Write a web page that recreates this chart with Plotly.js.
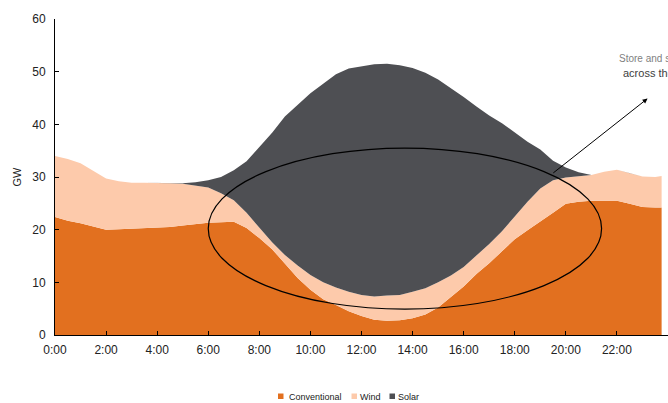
<!DOCTYPE html>
<html>
<head>
<meta charset="utf-8">
<script src="https://cdn.plot.ly/plotly-3.0.1.min.js"></script>
<style>html,body{margin:0;padding:0;background:#fff;}#chart{width:668px;height:403px;}</style>
</head>
<body>
<div id="chart"></div>
<script>
// Hours of the day (decimal)
const hours = [0,0.5,1,1.5,2,2.5,3,3.5,4,4.5,5,5.5,6,6.5,7,7.5,8,8.5,9,9.5,10,10.5,11,11.5,12,12.5,13,13.5,14,14.5,15,15.5,16,16.5,17,17.5,18,18.5,19,19.5,20,20.5,21,21.5,22,22.5,23,23.5,23.75];
// GW, stacked
const conventional = [22.4,21.7,21.2,20.6,20.0,20.1,20.2,20.3,20.4,20.5,20.8,21.1,21.3,21.4,21.5,20.3,18.4,16.3,13.5,10.8,8.6,6.8,5.7,4.5,3.6,2.9,2.7,2.8,3.2,3.9,5.2,7.2,9.2,11.6,13.6,15.9,18.2,19.9,21.5,23.2,24.9,25.3,25.5,25.5,25.5,24.9,24.3,24.2,24.2];
const wind = [11.6,11.7,11.4,10.6,9.7,9.1,8.7,8.6,8.5,8.3,7.9,7.3,6.7,5.5,4.1,2.9,2.1,1.3,1.7,2.4,2.8,3.2,3.3,3.7,4.0,4.4,4.8,4.8,5.0,5.0,4.8,4.1,3.7,3.5,3.7,3.8,4.4,5.4,6.3,6.2,5.0,4.8,4.9,5.5,5.9,5.8,5.8,5.8,6.0];
const solar = [0,0,0,0,0,0,0,0,0,0,0.1,0.6,1.4,3.1,5.7,9.8,15.1,20.8,26.3,30.5,34.5,37.7,40.5,42.4,43.4,44.1,44.0,43.6,42.5,40.9,38.5,35.6,32.3,28.3,24.4,20.5,15.9,11.4,7.4,3.7,1.9,0.8,0,0,0,0,0,0,0];
const seriesNames = ["Conventional","Wind","Solar"];
const seriesColors = ["#E2701F","#FDCAAB","#4E4F53"];
const tickHours = [0,2,4,6,8,10,12,14,16,18,20,22];
const tickLabels = ["0:00","2:00","4:00","6:00","8:00","10:00","12:00","14:00","16:00","18:00","20:00","22:00"];
const yTicks = [0,10,20,30,40,50,60];
const noteLines = ["Store and shift solar","across the day"];

const seriesValues = [conventional, wind, solar];
const traces = seriesValues.map((vals, i) => ({
  x: hours, y: vals, name: seriesNames[i], type: 'scatter', mode: 'lines',
  stackgroup: 'one', line: {width: 0, color: seriesColors[i]}, fillcolor: seriesColors[i],
  showlegend: false, hoverinfo: 'skip'
}));

// plot geometry for legend placement (paper coords)
const L = 55, T = 19, W = 613, H = 316;
const px = v => (v - L) / W;
const py = v => (T + H - v) / H;

const legendSquares = [278, 351.5, 389.5];
const legendText = [286.5, 358, 395.5];
const shapes = [
  {type: 'circle', xref: 'x', yref: 'y', x0: 6.0, x1: 21.4, y0: 4.9, y1: 35.5,
   line: {color: '#000', width: 1.2}, layer: 'above'}
];
const annotations = [];
seriesNames.forEach((n, i) => {
  shapes.push({type: 'rect', xref: 'paper', yref: 'paper',
    x0: px(legendSquares[i]), x1: px(legendSquares[i] + 5.5),
    y0: py(399), y1: py(393.5), fillcolor: seriesColors[i], line: {width: 0}});
  annotations.push({xref: 'paper', yref: 'paper', x: px(legendText[i]), y: py(396.5),
    xanchor: 'left', yanchor: 'middle', showarrow: false, text: n,
    font: {family: 'Liberation Sans, Arial', size: 9, color: '#222'}});
});
annotations.push({xref: 'paper', yref: 'paper', x: px(617), y: py(58), xanchor: 'left', yanchor: 'middle',
  showarrow: false, text: noteLines[0], font: {family: 'Liberation Sans, Arial', size: 10, color: '#7f7f7f'}});
annotations.push({xref: 'paper', yref: 'paper', x: px(621), y: py(73), xanchor: 'left', yanchor: 'middle',
  showarrow: false, text: noteLines[1], font: {family: 'Liberation Sans, Arial', size: 11, color: '#404040'}});
annotations.push({xref: 'x', yref: 'y', axref: 'x', ayref: 'y', x: 23.2, y: 44.9, ax: 19.45, ay: 30.55,
  text: '', showarrow: true, arrowhead: 2, arrowsize: 1, arrowwidth: 1, arrowcolor: '#000'});

const layout = {
  width: 668, height: 403,
  margin: {l: L, r: 0, t: T, b: 403 - T - H, pad: 0},
  paper_bgcolor: '#fff', plot_bgcolor: '#fff',
  font: {family: 'Liberation Sans, Arial, sans-serif', size: 12, color: '#222'},
  showlegend: false,
  xaxis: {range: [0, 24], tickvals: tickHours, ticktext: tickLabels, ticks: 'inside', ticklen: 4,
    tickcolor: '#000', showline: true, linecolor: '#000', linewidth: 1, showgrid: false, zeroline: false,
    tickfont: {size: 12, color: '#222'}, ticklabelstandoff: 4, fixedrange: true},
  yaxis: {range: [0, 60], tickvals: yTicks, ticks: 'inside', ticklen: 4, tickcolor: '#000',
    showline: true, linecolor: '#000', linewidth: 1, showgrid: false, zeroline: false,
    tickfont: {size: 12, color: '#222'}, ticklabelstandoff: 6,
    title: {text: 'GW', font: {size: 11, color: '#222'}, standoff: 8}, automargin: false, fixedrange: true},
  shapes: shapes, annotations: annotations
};
Plotly.newPlot('chart', traces, layout, {displayModeBar: false, staticPlot: true});
</script>
</body>
</html>
